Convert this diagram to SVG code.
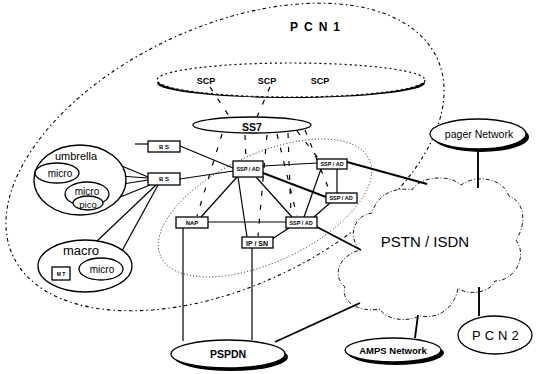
<svg xmlns="http://www.w3.org/2000/svg" width="541" height="374" viewBox="0 0 541 374">
<style>
.ln{stroke:#000;stroke-width:1.2;fill:none}
.thk{stroke:#000;stroke-width:1.9;fill:none}
.dsh{stroke:#000;stroke-width:1.2;fill:none;stroke-dasharray:5 9}
.box{fill:#fff;stroke:#000;stroke-width:1.3}
.ell{fill:#fff;stroke:#000;stroke-width:1.3}
.sh{fill:#000}
.bt{font-family:"Liberation Sans",Arial,sans-serif;font-weight:bold;text-anchor:middle;fill:#000}
.rt{font-family:"Liberation Sans",Arial,sans-serif;text-anchor:middle;fill:#000}
</style>
<rect width="541" height="374" fill="#fff"/>

<g id="pcn1-boundary">
<ellipse cx="225" cy="157" rx="234" ry="130" transform="rotate(-25 225 157)" fill="none" stroke="#000" stroke-width="1.1" stroke-dasharray="1.5 3 3.5 3"/>
<text class="bt" x="290" y="31" font-size="12" letter-spacing="6" text-anchor="start" style="text-anchor:start">PCN1</text>
</g>
<g id="inner-region">
<ellipse cx="265" cy="208" rx="115" ry="54" transform="rotate(-25 265 208)" fill="none" stroke="#000" stroke-width="0.8" stroke-dasharray="1 2.2"/>
</g>

<g id="scp">
<ellipse cx="291" cy="83" rx="134" ry="15" class="sh"/>
<ellipse cx="291" cy="80" rx="134" ry="17" fill="#fff" stroke="#000" stroke-width="1.2" stroke-dasharray="2 3"/>
<text class="bt" x="206" y="84" font-size="9">SCP</text>
<text class="bt" x="267" y="84" font-size="9">SCP</text>
<text class="bt" x="320" y="84" font-size="9">SCP</text>
</g>

<g id="pstn">
<path d="M360,250 C348,238 352,216 372,213 C376,196 394,186 412,190 C420,176 450,174 461,185 C476,174 503,178 509,196 C526,202 526,226 516,240 C528,256 515,281 495,281 C490,293 468,296 458,288 C455,306 440,320 420,316 C405,323 385,319 380,309 C360,313 340,302 345,287 C332,276 338,256 360,250 Z" fill="#fff" stroke="#000" stroke-width="0.9" stroke-dasharray="4 2 1 2"/>
<text class="rt" x="425" y="247" font-size="15">PSTN / ISDN</text>
</g>

<g id="connectors">
<line class="dsh" x1="210" y1="87" x2="229" y2="116"/>
<line class="dsh" x1="270" y1="87" x2="257" y2="117"/>
<line class="dsh" x1="222" y1="134" x2="197" y2="216"/>
<line class="dsh" x1="245" y1="135" x2="246" y2="160"/>
<line class="dsh" x1="267" y1="135" x2="258" y2="236"/>
<line class="dsh" x1="277" y1="134" x2="297" y2="216"/>
<line class="dsh" x1="288" y1="133" x2="291" y2="216"/>
<line class="dsh" x1="297" y1="131" x2="318" y2="158"/>
<line class="dsh" x1="305" y1="130" x2="330" y2="192"/>

<line class="ln" x1="135" y1="144" x2="148" y2="144"/>
<line class="ln" x1="180" y1="146" x2="233" y2="168"/>
<line class="ln" x1="180" y1="179" x2="233" y2="171"/>
<line class="ln" x1="98" y1="156" x2="148" y2="177"/>
<line class="ln" x1="78" y1="173" x2="148" y2="178"/>
<line class="ln" x1="104" y1="187" x2="148" y2="180"/>
<line class="ln" x1="98" y1="206" x2="150" y2="185"/>
<line class="ln" x1="156" y1="185" x2="97" y2="241"/>
<line class="ln" x1="158" y1="185" x2="117" y2="260"/>

<line class="ln" x1="263" y1="166" x2="317" y2="163"/>
<line class="thk" x1="263" y1="173" x2="326" y2="197"/>
<line class="ln" x1="237" y1="177" x2="201" y2="217"/>
<line class="ln" x1="238" y1="177" x2="247" y2="237"/>
<line class="ln" x1="256" y1="177" x2="292" y2="217"/>
<line class="ln" x1="337" y1="169" x2="337" y2="193"/>
<line class="ln" x1="321" y1="169" x2="304" y2="217"/>
<line class="ln" x1="330" y1="203" x2="314" y2="217"/>
<line class="ln" x1="208" y1="222" x2="286" y2="222"/>
<line class="ln" x1="289" y1="228" x2="272" y2="239"/>
<line class="thk" x1="317" y1="227" x2="361" y2="250"/>
<line class="thk" x1="347" y1="162" x2="427" y2="184"/>

<line class="ln" x1="183" y1="228" x2="183" y2="341"/>
<line class="ln" x1="252" y1="248" x2="252" y2="340"/>
<line class="thk" x1="275" y1="342" x2="360" y2="303"/>
<line class="thk" x1="415" y1="338" x2="418" y2="315"/>
<line class="thk" x1="479" y1="316" x2="479" y2="287"/>
<line class="thk" x1="478" y1="150" x2="478" y2="188"/>
</g>

<g id="ss7">
<ellipse class="ell" cx="252" cy="125" rx="59" ry="8"/>
<text class="bt" x="252" y="131" font-size="10.5">SS7</text>
</g>

<g id="umbrella">
<ellipse class="ell" cx="80" cy="180" rx="46" ry="35" fill="none"/>
<text class="rt" x="76" y="160" font-size="11">umbrella</text>
</g>
<g id="micro1">
<ellipse class="ell" cx="57" cy="173" rx="22" ry="10"/>
<text class="rt" x="60" y="177" font-size="10">micro</text>
</g>
<g id="micro2">
<ellipse class="ell" cx="87" cy="194" rx="22" ry="12"/>
<text class="rt" x="87" y="195" font-size="10">micro</text>
</g>
<g id="pico">
<ellipse class="ell" cx="88" cy="203" rx="15" ry="7"/>
<text class="rt" x="88" y="208" font-size="9.5">pico</text>
</g>
<g id="macro">
<ellipse class="ell" cx="85" cy="266" rx="47" ry="26"/>
<text class="rt" x="81" y="255" font-size="13">macro</text>
</g>
<g id="micro3">
<ellipse class="ell" cx="101" cy="269" rx="22" ry="11"/>
<text class="rt" x="102" y="273" font-size="10">micro</text>
</g>
<g id="mt">
<rect class="box" x="52" y="267" width="18" height="13"/>
<text class="bt" x="61" y="276" font-size="5">M T</text>
</g>

<g id="bs1">
<rect class="box" x="148" y="141" width="32" height="11"/>
<text class="bt" x="164" y="149" font-size="6">B S</text>
</g>
<g id="bs2">
<rect class="box" x="148" y="173" width="32" height="12"/>
<text class="bt" x="164" y="181" font-size="6">B S</text>
</g>

<g id="ssp-main">
<rect class="box" x="233" y="161" width="30" height="16"/>
<text class="bt" x="248" y="171" font-size="5.5">SSP / AD</text>
</g>
<g id="ssp-ur">
<rect class="box" x="317" y="159" width="30" height="10"/>
<text class="bt" x="332" y="166" font-size="5.5">SSP / AD</text>
</g>
<g id="ssp-mr">
<rect class="box" x="326" y="193" width="31" height="10"/>
<text class="bt" x="341" y="200" font-size="5.5">SSP / AD</text>
</g>
<g id="ssp-low">
<rect class="box" x="286" y="217" width="31" height="11"/>
<text class="bt" x="301" y="225" font-size="5.5">SSP / AD</text>
</g>
<g id="nap">
<rect class="box" x="176" y="217" width="32" height="11"/>
<text class="bt" x="192" y="225" font-size="6">NAP</text>
</g>
<g id="ipsn">
<rect class="box" x="242" y="237" width="31" height="11"/>
<text class="bt" x="257" y="245.5" font-size="7">IP / SN</text>
</g>

<g id="pspdn">
<ellipse class="sh" cx="231" cy="357" rx="57" ry="14"/>
<ellipse class="ell" cx="228" cy="354" rx="57" ry="14"/>
<text class="bt" x="228" y="358" font-size="10.5">PSPDN</text>
</g>
<g id="amps">
<ellipse class="sh" cx="396" cy="353" rx="48" ry="12"/>
<ellipse class="ell" cx="393" cy="350" rx="48" ry="12"/>
<text class="bt" x="393" y="353.5" font-size="9.5">AMPS Network</text>
</g>
<g id="pager">
<ellipse class="sh" cx="481" cy="137" rx="48" ry="15"/>
<ellipse class="ell" cx="478" cy="134" rx="48" ry="15"/>
<text class="rt" x="479" y="138" font-size="10.5">pager  Network</text>
</g>
<g id="pcn2">
<ellipse class="ell" cx="495" cy="335" rx="37" ry="19"/>
<text class="rt" x="472" y="340" font-size="13" letter-spacing="4" style="text-anchor:start">PCN2</text>
</g>
</svg>
